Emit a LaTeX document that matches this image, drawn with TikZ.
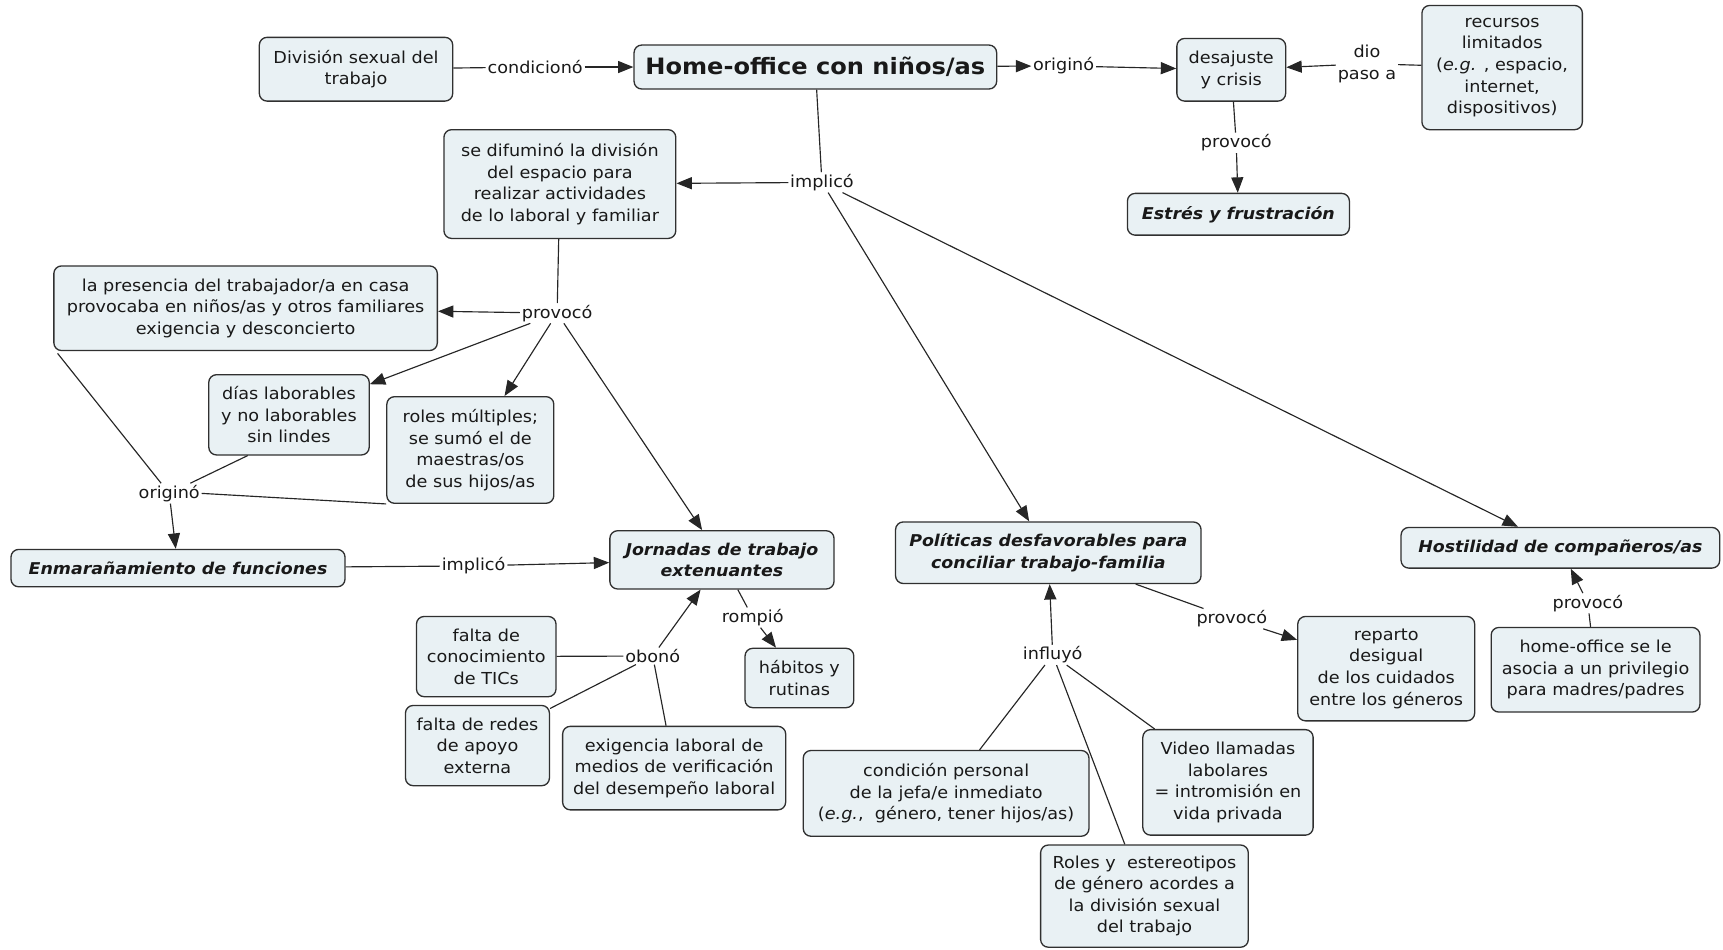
\documentclass[tikz,border=0pt]{standalone}
\usepackage{fontspec}
\setmainfont{DejaVu Sans}[FakeStretch=1.07]
\usetikzlibrary{arrows.meta}
\definecolor{boxfill}{HTML}{E9F1F4}
\definecolor{boxline}{HTML}{303030}
\definecolor{linec}{HTML}{262626}
\newcommand{\fs}{\fontsize{15}{19.6}\selectfont}
\newcommand{\fbi}{\fontsize{14.8}{19.6}\selectfont\bfseries\itshape}
\tikzset{
  box/.style={draw=boxline, fill=boxfill, rounded corners=7pt, line width=1.2pt, align=center, inner sep=2pt, font=\fs, text=black!90},
  tbox/.style={box, font=\fbi},
  lbl/.style={inner sep=1.5pt, font=\fs, align=center, text=black!90},
  con/.style={draw=linec, line width=1.05pt},
  arr/.style={con, -{Triangle[length=14pt,width=11pt]}}
}
\begin{document}
\begin{tikzpicture}[x=1pt,y=-1pt]
\useasboundingbox (0,0) rectangle (1568,864);
% nodes
\node[box, minimum width=176pt, minimum height=58pt] (div) at (324,63) {División sexual del\\trabajo};
\node[box, minimum width=330pt, minimum height=40pt, font=\fontsize{20.5}{24}\selectfont\bfseries] (home) at (742,61) {Home-office con niños/as};
\node[box, minimum width=99pt, minimum height=57pt] (desaj) at (1120.5,63.5) {desajuste\\y crisis};
\node[box, minimum width=146pt, minimum height=113pt] (recur) at (1367,61.5) {recursos\\limitados\\(\textit{e.g.} , espacio,\\internet,\\dispositivos)};
\node[tbox, minimum width=202pt, minimum height=38pt] (estres) at (1127,195) {Estrés y frustración};
\node[box, minimum width=211pt, minimum height=99pt] (difum) at (509.5,167.5) {se difuminó la división\\del espacio para\\realizar actividades\\de lo laboral y familiar};
\node[box, minimum width=349pt, minimum height=77pt] (pres) at (223.5,280.5) {la presencia del trabajador/a en casa\\provocaba en niños/as y otros familiares\\exigencia y desconcierto};
\node[box, minimum width=146pt, minimum height=73pt] (dias) at (263,377.5) {días laborables\\y no laborables\\sin lindes};
\node[box, minimum width=152pt, minimum height=97pt] (roles) at (428,409.5) {roles múltiples;\\se sumó el de\\maestras/os\\de sus hijos/as};
\node[tbox, minimum width=304pt, minimum height=34pt] (enmar) at (162,517) {Enmarañamiento de funciones};
\node[tbox, minimum width=204pt, minimum height=53pt] (jorn) at (657,509.5) {Jornadas de trabajo\\extenuantes};
\node[box, minimum width=127pt, minimum height=73pt] (tics) at (442.5,597.5) {falta de\\conocimiento\\de TICs};
\node[box, minimum width=131pt, minimum height=73pt] (redes) at (434.5,678.5) {falta de redes\\de apoyo\\externa};
\node[box, minimum width=203pt, minimum height=76pt] (exig) at (613.5,699) {exigencia laboral de\\medios de verificación\\del desempeño laboral};
\node[box, minimum width=99pt, minimum height=54pt] (habit) at (727.5,617) {hábitos y\\rutinas};
\node[tbox, minimum width=278pt, minimum height=56pt] (polit) at (954,503) {Políticas desfavorables para\\conciliar trabajo-familia};
\node[tbox, minimum width=290pt, minimum height=37pt] (hostil) at (1420,498.5) {Hostilidad de compañeros/as};
\node[box, minimum width=161pt, minimum height=95pt] (repar) at (1261.5,608.5) {reparto\\desigual\\de los cuidados\\entre los géneros};
\node[box, minimum width=190pt, minimum height=77pt] (priv) at (1452,609.5) {home-office se le\\asocia a un privilegio\\para madres/padres};
\node[box, minimum width=260pt, minimum height=78pt] (cond) at (861,722) {condición personal\\de la jefa/e inmediato\\(\textit{e.g.},\ \ género, tener hijos/as)};
\node[box, minimum width=155pt, minimum height=96pt] (video) at (1117.5,712) {Video llamadas\\labolares\\= intromisión en\\vida privada};
\node[box, minimum width=189pt, minimum height=93pt] (rolest) at (1041.5,815.5) {Roles y\ \ estereotipos\\de género acordes a\\la división sexual\\del trabajo};
% labels
\node[lbl] (lcond) at (487,61) {condicionó};
\node[lbl] (lorig) at (968,60) {originó};
\node[lbl] (ldio) at (1244,58) {dio\\paso a};
\node[lbl] (lprovd) at (1125,130) {provocó};
\node[lbl] (limpt) at (748,166) {implicó};
\node[lbl] (lprovm) at (507,285) {provocó};
\node[lbl] (lorigl) at (154,449) {originó};
\node[lbl] (limpl) at (431,515) {implicó};
\node[lbl] (lobon) at (594,597) {obonó};
\node[lbl] (lromp) at (685,562) {rompió};
\node[lbl] (linfl) at (958,596) {influyó};
\node[lbl] (lprovp) at (1121,563) {provocó};
\node[lbl] (lprovh) at (1445,549) {provocó};
% connectors
\draw[con] (div) -- (lcond);
\draw[arr] (lcond) -- (home);
\draw[arr] (home) -- (lorig);
\draw[arr] (lorig) -- (desaj);
\draw[con] (recur) -- (ldio);
\draw[arr] (ldio) -- (desaj);
\draw[con] (desaj) -- (lprovd);
\draw[arr] (lprovd) -- (estres);
\draw[con] (home) -- (limpt);
\draw[arr] (limpt) -- (difum);
\draw[arr] (limpt) -- (polit);
\draw[arr] (limpt) -- (hostil);
\draw[con] (difum) -- (lprovm);
\draw[arr] (lprovm) -- (pres);
\draw[arr] (lprovm) -- (dias);
\draw[arr] (lprovm) -- (roles);
\draw[arr] (lprovm) -- (jorn);
\draw[con] ([xshift=4pt,yshift=-2pt]pres.south west) -- (lorigl);
\draw[con] ([xshift=36pt]dias.south west) -- (lorigl);
\draw[con] (roles.south west) -- (lorigl.east);
\draw[arr] (lorigl) -- (enmar);
\draw[con] (enmar) -- (limpl);
\draw[arr] (limpl) -- (jorn);
\draw[con] (tics) -- (lobon);
\draw[con] (redes) -- (lobon);
\draw[con] (exig) -- (lobon);
\draw[arr] (lobon) -- (jorn);
\draw[con] (jorn) -- (lromp);
\draw[arr] (lromp) -- (habit);
\draw[con] (polit) -- (lprovp);
\draw[arr] (lprovp) -- (repar);
\draw[con] (cond) -- (linfl);
\draw[con] (video) -- (linfl);
\draw[con] (rolest) -- (linfl);
\draw[arr] (linfl) -- (polit);
\draw[con] (priv) -- (lprovh);
\draw[arr] (lprovh) -- (hostil);
\end{tikzpicture}
\end{document}
